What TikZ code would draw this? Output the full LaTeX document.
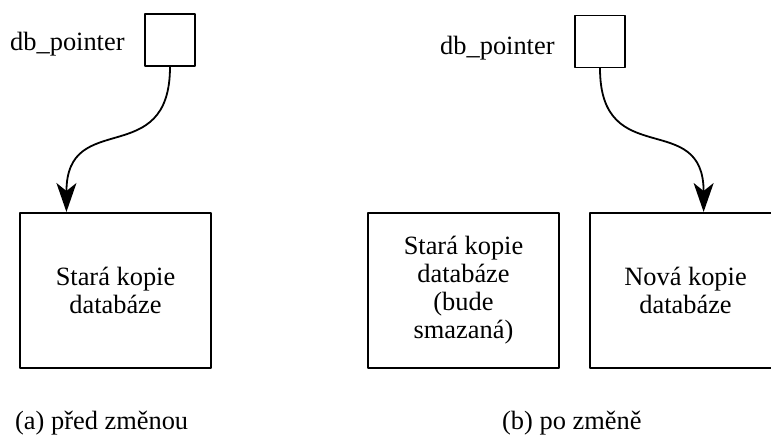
\documentclass[tikz,border=0pt]{standalone}
\usepackage{fontspec}
\setmainfont{Liberation Serif}
\usetikzlibrary{arrows.meta}
\begin{document}
\begin{tikzpicture}[x=1pt,y=1pt,>={Stealth[length=29pt,width=20pt,inset=8pt]},line cap=round,line join=round,
ptr/.style={draw,line width=1.5pt,minimum width=50pt,minimum height=52pt,inner sep=0pt},
dbbox/.style={draw,line width=2pt,minimum width=191pt,minimum height=155pt,align=center,inner sep=0pt},
lbl/.style={anchor=base west,inner sep=0pt},
font=\rmfamily\fontsize{26.4}{28}\selectfont]
\useasboundingbox(0,0) rectangle (771,-435);
\clip(0,0) rectangle (771,-435);
% (a) before the change
\path(170,-40)node[ptr](ptrA){}
(10,-51)node[lbl](lblA){db\_pointer}
(115.5,-290.5)node[dbbox](oldA){Stará kopie\\databáze}
(15,-429)node[lbl](capA){(a) před změnou};
% (b) after the change
\path(600,-41.5)node[ptr](ptrB){}
(440,-55)node[lbl](lblB){db\_pointer}
(463.5,-290.5)node[dbbox](oldB){Stará kopie\\databáze\\(bude\\smazaná)}
(685.5,-290.5)node[dbbox](newB){Nová kopie\\databáze}
(502,-429)node[lbl](capB){(b) po změně};
\draw[->,line width=1.8pt](ptrA.south) to[out=-90,in=90,looseness=1.5] (oldA.122.6);
\draw[->,line width=1.8pt](ptrB.south) to[out=-90,in=90,looseness=1.5] (newB.77.3);
\end{tikzpicture}
\end{document}
